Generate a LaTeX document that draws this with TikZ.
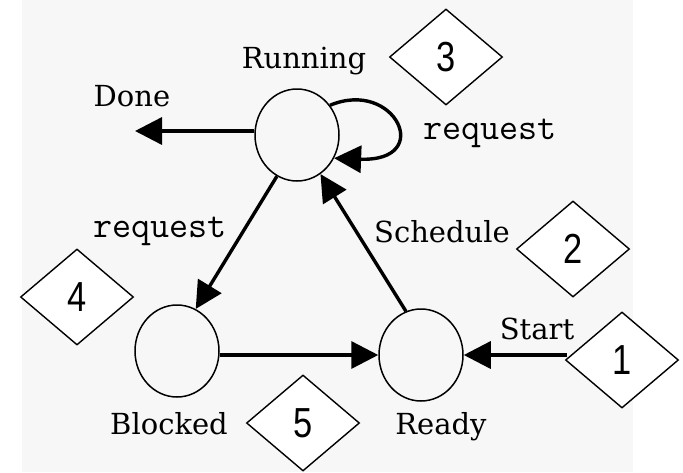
\documentclass[tikz,border=0pt]{standalone}
\usepackage{fontspec}
\setmainfont{DejaVu Serif}
\newfontfamily\numfont{Liberation Sans}
\usetikzlibrary{shapes.geometric,arrows.meta}
\newcommand{\marknum}[1]{\scalebox{0.82}[1]{#1}}
\begin{document}
\begin{tikzpicture}[x=1pt,y=-1pt,
  state/.style={ellipse,draw,line width=1.5pt,minimum width=84pt,minimum height=92pt,inner sep=0pt},
  flow/.style={line width=3.4pt,-{Triangle[length=27pt,width=27pt]}},
  lbl/.style={font=\fontsize{29}{29}\selectfont,anchor=base,inner sep=0pt},
  code/.style={font=\ttfamily\fontsize{37}{37}\selectfont,anchor=base,inner sep=0pt},
  marker/.style={diamond,draw,line width=1.4pt,fill=white,minimum width=113pt,
    minimum height=96pt,inner sep=0pt,font=\numfont\fontsize{42}{42}\selectfont}]
  % canvas and paper panel
  \useasboundingbox (0,0) rectangle (683,472);
  \fill[white] (0,0) rectangle (683,472);
  \fill[black!3] (22,0) rectangle (633,472);

  % states
  \node[state] (run) at (297,135) {};
  \node[state] (blk) at (177,351) {};
  \node[state] (rdy) at (421,355) {};

  % state names and transition labels
  \node[lbl] (runlbl) at (304,68) {Running};
  \node[lbl] (donelbl) at (132,106) {Done};
  \node[lbl] (schedlbl) at (442,242) {Schedule};
  \node[lbl] (startlbl) at (537,339) {Start};
  \node[lbl] (blklbl) at (169,434) {Blocked};
  \node[lbl] (rdylbl) at (441,434) {Ready};
  \node[code] (reqloop) at (490,139) {request};
  \node[code] (reqblk) at (160,237) {request};

  % transitions
  \coordinate (doneend) at (135,131);
  \coordinate (startin) at (567,355);
  \draw[flow] (run.west |- doneend) -- (doneend);
  \draw[flow] (run.42) .. controls (395,78) and (435,162) .. (run.-32);
  \draw[flow] (run.244) -- (blk.66);
  \draw[flow] (rdy.109) -- (run.301);
  \draw[flow] (blk.east |- rdy.west) -- (rdy.west);
  \draw[flow] (startin) -- (rdy.east);

  % numbered markers
  \node[marker] (m1) at (622,360) {\marknum{1}};
  \node[marker] (m2) at (573,249) {\marknum{2}};
  \node[marker] (m3) at (446,57) {\marknum{3}};
  \node[marker] (m4) at (77,297) {\marknum{4}};
  \node[marker] (m5) at (303,423) {\marknum{5}};
\end{tikzpicture}
\end{document}
